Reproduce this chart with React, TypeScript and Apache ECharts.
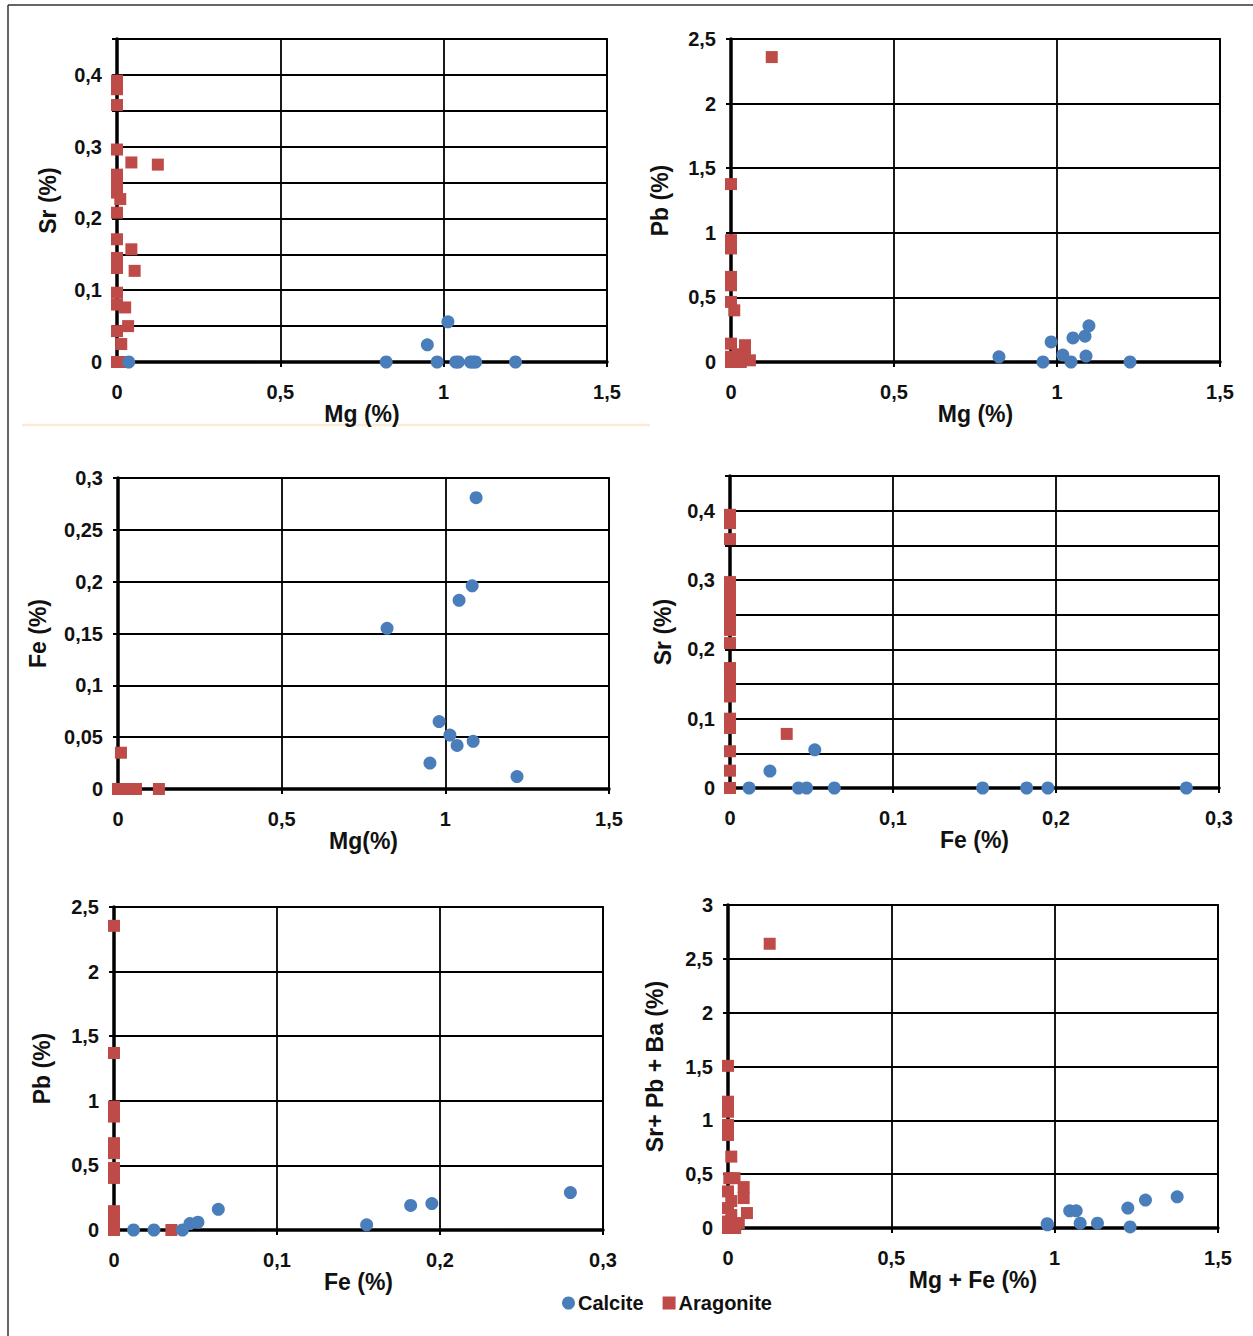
import React, { useEffect, useRef } from "react";
import * as echarts from "echarts";

// ---------- DATA ----------
// Panel 1: Sr (%) vs Mg (%)
const p1Calcite: [number, number][] = [
  [0.036, 0], [0.824, 0], [0.95, 0.024], [0.98, 0], [1.013, 0.056], [1.037, 0],
  [1.045, 0], [1.082, 0], [1.09, 0], [1.098, 0], [1.22, 0],
];
const p1Aragonite: [number, number][] = [
  [0, 0.392], [0, 0.38], [0, 0.358], [0, 0.296], [0.044, 0.278], [0.125, 0.275],
  [0, 0.261], [0, 0.247], [0, 0.236], [0.01, 0.227], [0, 0.208], [0, 0.171],
  [0.044, 0.157], [0, 0.145], [0, 0.131], [0.054, 0.127], [0, 0.0965], [0, 0.08],
  [0.025, 0.076], [0.034, 0.05], [0, 0.043], [0.013, 0.025], [0, 0], [0.015, 0],
];
// Panel 2: Pb (%) vs Mg (%)
const p2Calcite: [number, number][] = [
  [0.822, 0.04], [0.957, 0], [0.982, 0.155], [1.018, 0.054], [1.043, 0],
  [1.049, 0.186], [1.086, 0.2], [1.089, 0.046], [1.098, 0.28], [1.224, 0],
];
const p2Aragonite: [number, number][] = [
  [0.125, 2.36], [0, 1.377], [0, 0.943], [0, 0.879], [0, 0.659], [0, 0.594],
  [0, 0.465], [0.01, 0.4], [0, 0.142], [0.043, 0.13], [0.043, 0.04], [0.058, 0.013],
  [0, 0.04], [0, 0], [0.02, 0.06], [0.03, 0],
];
// Panel 3: Fe (%) vs Mg (%)
const p3Calcite: [number, number][] = [
  [0.822, 0.155], [0.953, 0.025], [0.981, 0.065], [1.014, 0.052], [1.036, 0.042],
  [1.042, 0.182], [1.082, 0.196], [1.085, 0.046], [1.094, 0.281], [1.219, 0.012],
];
const p3Aragonite: [number, number][] = [
  [0.009, 0.035], [0, 0], [0.015, 0], [0.03, 0], [0.045, 0], [0.055, 0], [0.125, 0],
];
// Panel 4: Sr (%) vs Fe (%)
const p4Calcite: [number, number][] = [
  [0.0117, 0], [0.0245, 0.0245], [0.042, 0], [0.047, 0], [0.052, 0.055],
  [0.064, 0], [0.155, 0], [0.182, 0], [0.195, 0], [0.28, 0],
];
const p4Aragonite: [number, number][] = [
  [0, 0.394], [0, 0.382], [0, 0.359], [0, 0.297], [0, 0.284], [0, 0.269], [0, 0.255],
  [0, 0.24], [0, 0.228], [0, 0.209], [0, 0.173], [0, 0.159], [0, 0.144], [0, 0.132],
  [0, 0.1], [0, 0.0865], [0, 0.053], [0, 0.025], [0, 0], [0.0348, 0.078],
];
// Panel 5: Pb (%) vs Fe (%)
const p5Calcite: [number, number][] = [
  [0.012, 0], [0.0245, 0], [0.042, 0], [0.0466, 0.05], [0.0515, 0.06],
  [0.064, 0.16], [0.155, 0.04], [0.182, 0.19], [0.195, 0.205], [0.28, 0.29],
];
const p5Aragonite: [number, number][] = [
  [0, 2.354], [0, 1.37], [0, 0.955], [0, 0.878], [0, 0.672], [0, 0.595], [0, 0.48],
  [0, 0.403], [0, 0.146], [0, 0.082], [0, 0.018], [0, 0], [0.0352, 0],
];
// Panel 6: Sr + Pb + Ba (%) vs Mg + Fe (%)
const p6Calcite: [number, number][] = [
  [0.977, 0.04], [0.978, 0.03], [1.046, 0.16], [1.066, 0.16], [1.078, 0.045],
  [1.131, 0.045], [1.224, 0.185], [1.231, 0.01], [1.278, 0.26], [1.375, 0.29],
];
const p6Aragonite: [number, number][] = [
  [0.1276, 2.64], [0, 1.506], [0, 1.173], [0, 1.08], [0, 0.957], [0, 0.864],
  [0.01, 0.663], [0.004, 0.463], [0.02, 0.463], [0, 0.34], [0.048, 0.38],
  [0.048, 0.278], [0.01, 0.25], [0, 0.185], [0.058, 0.139], [0.01, 0.12],
  [0, 0.06], [0.033, 0.046], [0, 0], [0.022, 0],
];

const xNames = ["Mg (%)", "Mg (%)", "Mg(%)", "Fe (%)", "Fe (%)", "Mg + Fe (%)"];
const yNames = ["Sr (%)", "Pb (%)", "Fe (%)", "Sr (%)", "Pb (%)", "Sr+ Pb + Ba (%)"];
const xMax = [1.5, 1.5, 1.5, 0.3, 0.3, 1.5];
const xStep = [0.5, 0.5, 0.5, 0.1, 0.1, 0.5];
const yMax = [0.45, 2.5, 0.3, 0.45, 2.5, 3];
const yStep = [0.05, 0.5, 0.05, 0.05, 0.5, 0.5];
const yLabelStep = [0.1, 0.5, 0.05, 0.1, 0.5, 0.5];
const seriesNames = ["Calcite", "Aragonite"];

const calciteSets = [p1Calcite, p2Calcite, p3Calcite, p4Calcite, p5Calcite, p6Calcite];
const aragoniteSets = [p1Aragonite, p2Aragonite, p3Aragonite, p4Aragonite, p5Aragonite, p6Aragonite];

// ---------- LAYOUT ----------
const grids = [
  { left: 117, top: 39, width: 490, height: 323 },
  { left: 731, top: 39, width: 489, height: 323 },
  { left: 118, top: 478, width: 491, height: 311 },
  { left: 730, top: 476, width: 489, height: 312 },
  { left: 114, top: 907, width: 489, height: 323 },
  { left: 728, top: 905, width: 490, height: 323 },
];
const xNameGap = [37, 37, 37, 35, 38, 36];
const yNameGap = [58, 60, 69, 56, 61, 62];

const FONT = "'Liberation Sans', Arial, Helvetica, sans-serif";
const BLUE = "#4A7EBB";
const RED = "#BE4B48";

function fmtNum(v: number): string {
  const r = Math.round(v * 1000) / 1000;
  return String(r).replace(".", ",");
}

export default function App() {
  const ref = useRef<HTMLDivElement>(null);
  useEffect(() => {
    if (!ref.current) return;
    const chart = echarts.init(ref.current, undefined, { renderer: "svg" });

    const xAxis = grids.map((_, i) => ({
      type: "value",
      gridIndex: i,
      min: 0,
      max: xMax[i],
      interval: xStep[i],
      name: xNames[i],
      nameLocation: "middle",
      nameGap: xNameGap[i],
      nameTextStyle: { fontFamily: FONT, fontWeight: "bold", fontSize: 23, color: "#111" },
      axisLine: { show: true, onZero: false, lineStyle: { color: "#000", width: 3.5 } },
      axisTick: { show: true, inside: false, length: 5, lineStyle: { color: "#000", width: 2 } },
      axisLabel: {
        show: true,
        margin: 20,
        fontFamily: FONT,
        fontWeight: "bold",
        fontSize: 20,
        color: "#111",
        showMinLabel: true,
        showMaxLabel: true,
        formatter: (v: number) => fmtNum(v),
      },
      splitLine: { show: true, lineStyle: { color: "#000", width: 1.8 } },
    }));

    const yAxis = grids.map((_, i) => ({
      type: "value",
      gridIndex: i,
      min: 0,
      max: yMax[i],
      interval: yStep[i],
      name: yNames[i],
      nameLocation: "middle",
      nameGap: yNameGap[i],
      nameRotate: 90,
      nameTextStyle: { fontFamily: FONT, fontWeight: "bold", fontSize: 23, color: "#111" },
      axisLine: { show: true, onZero: false, lineStyle: { color: "#000", width: 3.5 } },
      axisTick: { show: true, inside: false, length: 5, lineStyle: { color: "#000", width: 2 } },
      axisLabel: {
        show: true,
        margin: 15,
        fontFamily: FONT,
        fontWeight: "bold",
        fontSize: 20,
        color: "#111",
        showMinLabel: true,
        showMaxLabel: true,
        formatter: (v: number) => {
          const t = v / yLabelStep[i];
          if (Math.abs(t - Math.round(t)) > 1e-6) return "";
          return fmtNum(v);
        },
      },
      splitLine: { show: true, lineStyle: { color: "#000", width: 1.8 } },
    }));

    const series: any[] = [];
    grids.forEach((_, i) => {
      series.push({
        type: "scatter",
        name: seriesNames[0],
        xAxisIndex: i,
        yAxisIndex: i,
        data: calciteSets[i],
        symbol: "circle",
        symbolSize: 13,
        itemStyle: { color: BLUE, opacity: 1 },
        z: 3,
      });
      series.push({
        type: "scatter",
        name: seriesNames[1],
        xAxisIndex: i,
        yAxisIndex: i,
        data: aragoniteSets[i],
        symbol: "rect",
        symbolSize: 12,
        itemStyle: { color: RED, opacity: 1 },
        z: 2,
      });
    });

    chart.setOption({
      animation: false,
      backgroundColor: "#ffffff",
      grid: grids.map((g) => ({
        ...g,
        containLabel: false,
        outerBoundsMode: "none",
        show: true,
        borderColor: "#000",
        borderWidth: 1.8,
        backgroundColor: "transparent",
      })),
      xAxis,
      yAxis,
      legend: {
        left: 557,
        top: 1288,
        itemWidth: 13,
        itemHeight: 13,
        itemGap: 19,
        textStyle: { fontFamily: FONT, fontWeight: "bold", fontSize: 20, color: "#111", padding: [0, 0, 0, -2] },
        data: [
          { name: seriesNames[0], icon: "circle", itemStyle: { color: BLUE } },
          { name: seriesNames[1], icon: "rect", itemStyle: { color: RED } },
        ],
        selectedMode: false,
      },
      graphic: [
        { type: "line", shape: { x1: 8, y1: 5, x2: 1253, y2: 5 }, style: { stroke: "#333", lineWidth: 1.5 } },
        { type: "line", shape: { x1: 8, y1: 5, x2: 8, y2: 1336 }, style: { stroke: "#333", lineWidth: 1.5 } },
        { type: "line", shape: { x1: 22, y1: 425, x2: 650, y2: 425 }, style: { stroke: "#FBEBD4", lineWidth: 2.5 } },
      ],
      series,
    });
    return () => chart.dispose();
  }, []);

  return (
    <div
      ref={ref}
      style={{ position: "absolute", left: 0, top: 0, width: 1253, height: 1336, background: "#fff" }}
    />
  );
}
